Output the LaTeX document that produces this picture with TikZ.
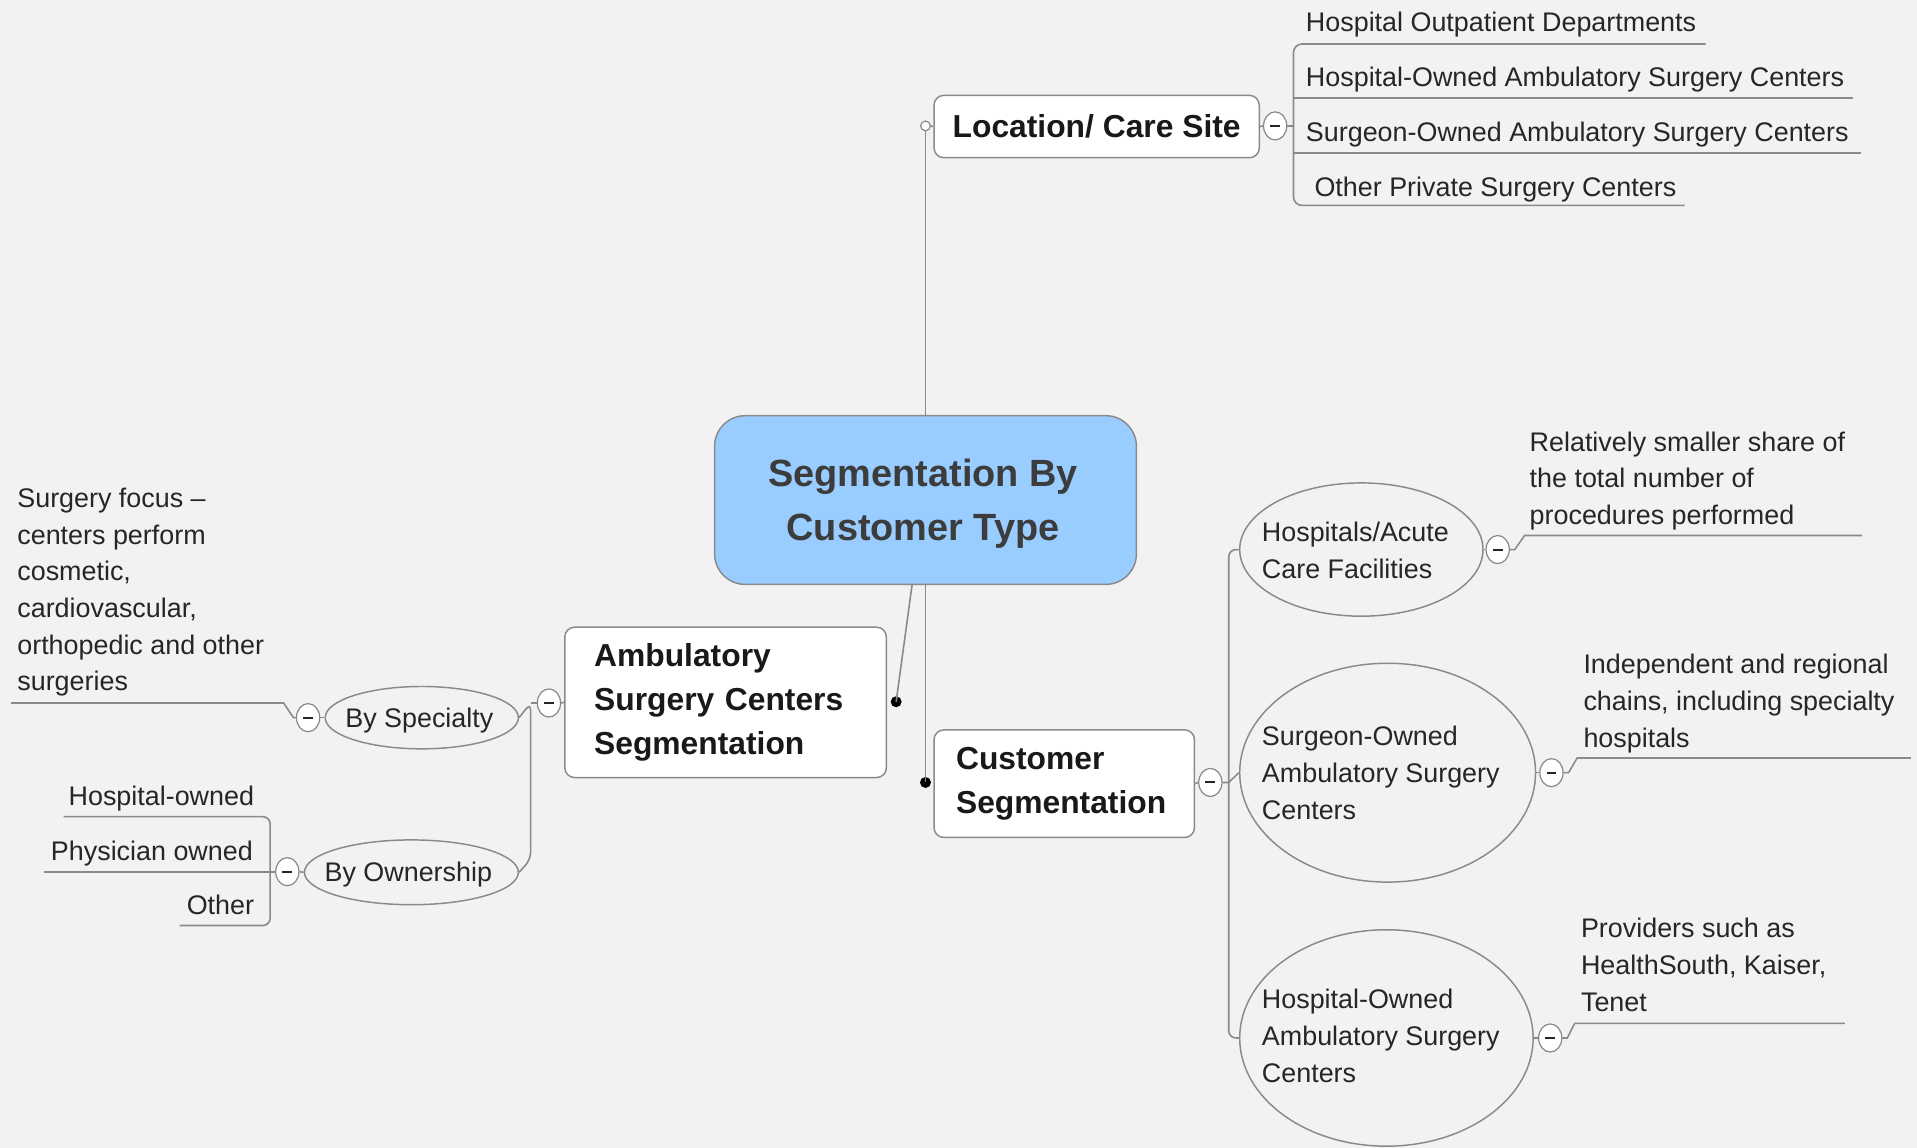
\documentclass[tikz,border=0pt]{standalone}
\usepackage{fontspec}
\setmainfont{Liberation Sans}
\usetikzlibrary{shapes.geometric}
\definecolor{bg}{HTML}{F2F2F2}
\definecolor{ln}{HTML}{8A8A8A}
\definecolor{tx}{HTML}{262626}
\definecolor{cblue}{HTML}{99CCFF}
\begin{document}
\begin{tikzpicture}[x=1pt,y=-1pt,
  leaf/.style={inner sep=0, text=tx, font=\fontsize{22}{30}\selectfont, align=left},
  box/.style={draw=ln, fill=white, rounded corners=8, line width=1.2, font=\bfseries\fontsize{26}{36}\selectfont, text=black!90, inner sep=0},
  conn/.style={draw=ln, line width=1.3},
  ell/.style={ellipse, draw=ln, fill=bg, line width=1.2, inner sep=0},
  minus/.style={ellipse, draw=ln, fill=white, minimum width=19, minimum height=23, inner sep=0, line width=1,
    path picture={\draw[black!85, line width=1.6] ([xshift=-4pt]path picture bounding box.center) -- ([xshift=4pt]path picture bounding box.center);}},
  bdot/.style={circle, fill=black, minimum size=9, inner sep=0},
  odot/.style={circle, draw=ln, fill=white, minimum size=8, inner sep=0, line width=1}]
\fill[bg] (0,0) rectangle (1568,939);
\useasboundingbox (0,0) rectangle (1568,939);

% central
\node[box, fill=cblue, rounded corners=25, minimum width=345, minimum height=138] (root) at (757,409) {};
\node[inner sep=0, align=center, text=tx!90, font=\bfseries\fontsize{31}{44}\selectfont] (roott) at (755,412) {Segmentation By\\Customer Type};

% location branch
\node[box, minimum width=266, minimum height=51] (loc) at (897,103.5) {Location/ Care Site};
\node[odot] (locdot) at (757,103) {};
\draw[conn] (root.north) -- (locdot.south);
\draw[conn] (locdot.east) -- (loc.west);
\node[minus] (mloc) at (1043,103) {};
\draw[conn] (loc.east) -- (mloc.west);
\coordinate (bl) at (1058,103);
\coordinate (u1) at (1395,36);
\coordinate (u2) at (1516,80);
\coordinate (u3) at (1522,125);
\coordinate (u4) at (1378,168);
\draw[conn] (mloc.east) -- (bl);
\draw[conn, rounded corners=7] (u1) -- (1058,36) -- (1058,168) -- (u4);
\draw[conn] (1058,80) -- (u2);
\draw[conn] (1058,125) -- (u3);
\node[leaf, anchor=base west] (t1) at (1068,26) {Hospital Outpatient Departments};
\node[leaf, anchor=base west] (t2) at (1068,71) {Hospital-Owned Ambulatory Surgery Centers};
\node[leaf, anchor=base west] (t3) at (1068,116) {Surgeon-Owned Ambulatory Surgery Centers};
\node[leaf, anchor=base west] (t4) at (1075,161) {Other Private Surgery Centers};

% ambulatory branch
\node[box, minimum width=263, minimum height=123, text width=215, inner xsep=24, align=left] (amb) at (593.5,574.5) {Ambulatory\\Surgery Centers\\Segmentation};
\node[bdot] (adot) at (733,574) {};
\draw[conn] (root.261) -- (adot.center);
\node[minus] (mamb) at (449,575) {};
\draw[conn] (mamb.east) -- (amb.west);
\node[ell, minimum width=158, minimum height=51] (bs) at (345,587) {};
\node[leaf] (bst) at (343,589) {By Specialty};
\node[ell, minimum width=175, minimum height=53] (bo) at (336.5,713.5) {};
\node[leaf] (bot) at (334,715) {By Ownership};
\draw[conn] (mamb.west) -- (434,575);
\draw[conn, rounded corners=6] (bs.east) -- (434,575) -- (434,703) -- (bo.east);

\node[minus] (ms) at (252,587) {};
\draw[conn] (bs.west) -- (ms.east);
\coordinate (sfend) at (9,575);
\draw[conn] (ms.west) -- (240,587) -- (232,575) -- (sfend);
\node[leaf, anchor=north west] (sf) at (14,399) {Surgery focus –\\centers perform\\cosmetic,\\cardiovascular,\\orthopedic and other\\surgeries};

\node[minus] (mo) at (235,713) {};
\draw[conn] (bo.west) -- (mo.east);
\coordinate (o1) at (52,668);
\coordinate (o2) at (36,713);
\coordinate (o3) at (147,757);
\draw[conn, rounded corners=6] (o1) -- (221,668) -- (221,757) -- (o3);
\draw[conn] (mo.west) -- (o2);
\node[leaf, anchor=base east] (ho) at (208,659) {Hospital-owned};
\node[leaf, anchor=base east] (po) at (207,704) {Physician owned};
\node[leaf, anchor=base east] (ot) at (208,748) {Other};

% customer branch
\node[box, minimum width=213, minimum height=88, text width=177, inner xsep=18, align=left] (cus) at (870.5,641) {Customer\\Segmentation};
\node[bdot] (cdot) at (757,640) {};
\draw[conn] (root.south) -- (cdot.center);
\node[minus] (mcs) at (990,640) {};
\draw[conn] (cus.east) -- (mcs.west);

\node[ell, minimum width=199, minimum height=109] (e1) at (1113.5,449.5) {};
\node[ell, minimum width=242, minimum height=179] (e2) at (1135,632) {};
\node[ell, minimum width=240, minimum height=177] (e3) at (1134,849) {};
\node[leaf, anchor=north west] (e1t) at (1032,427) {Hospitals/Acute\\Care Facilities};
\node[leaf, anchor=north west] (e2t) at (1032,594) {Surgeon-Owned\\Ambulatory Surgery\\Centers};
\node[leaf, anchor=north west] (e3t) at (1032,809) {Hospital-Owned\\Ambulatory Surgery\\Centers};
\draw[conn, rounded corners=6] (e1.west) -- (1005,449.5) -- (1005,849) -- (e3.west);
\draw[conn] (mcs.east) -- (1005,640) -- (e2.west);

\node[minus] (m1) at (1225,449.5) {};
\node[minus] (m2) at (1269,632) {};
\node[minus] (m3) at (1268,849) {};
\draw[conn] (e1.east) -- (m1.west);
\draw[conn] (e2.east) -- (m2.west);
\draw[conn] (e3.east) -- (m3.west);
\coordinate (d1e) at (1523,438);
\coordinate (d2e) at (1563,620);
\coordinate (d3e) at (1509,837);
\draw[conn] (m1.east) -- (1239,449.5) -- (1247,438) -- (d1e);
\draw[conn] (m2.east) -- (1283,632) -- (1290,620) -- (d2e);
\draw[conn] (m3.east) -- (1282,849) -- (1288,837) -- (d3e);
\node[leaf, anchor=north west] (d1) at (1251,353) {Relatively smaller share of\\the total number of\\procedures performed};
\node[leaf, anchor=north west] (d2) at (1295,535) {Independent and regional\\chains, including specialty\\hospitals};
\node[leaf, anchor=north west] (d3) at (1293,751) {Providers such as\\HealthSouth, Kaiser,\\Tenet};
\end{tikzpicture}
\end{document}
